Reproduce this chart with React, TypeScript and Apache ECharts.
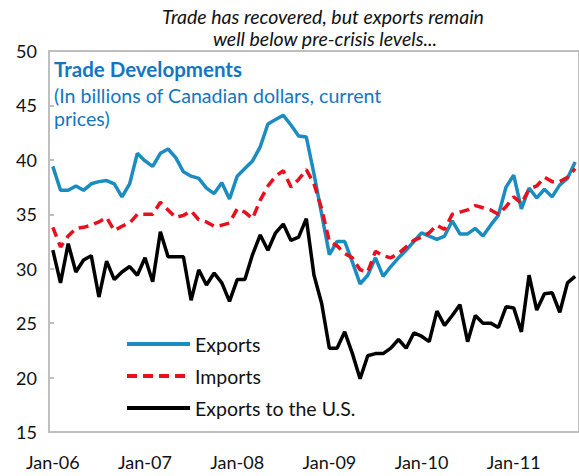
import React, { useEffect, useRef } from "react";
import * as echarts from "echarts";

const monthNames = ["Jan", "Feb", "Mar", "Apr", "May", "Jun", "Jul", "Aug", "Sep", "Oct", "Nov", "Dec"];
const yearNames = ["06", "07", "08", "09", "10", "11"];
const lastMonthCount = 69; // Jan-06 .. Sep-11

const categories: string[] = [];
for (const y of yearNames) {
  for (const m of monthNames) {
    if (categories.length < lastMonthCount) categories.push(`${m}-${y}`);
  }
}

const exportsData = [
  39.4, 37.2, 37.2, 37.6, 37.2, 37.8, 38.0, 38.1, 37.8, 36.6, 37.8, 40.6,
  39.9, 39.4, 40.6, 41.0, 40.2, 38.9, 38.5, 38.3, 37.4, 36.9, 37.9, 36.4,
  38.5, 39.2, 39.9, 41.2, 43.3, 43.7, 44.1, 43.2, 42.2, 42.1, 38.7, 35.0,
  31.3, 32.5, 32.5, 30.6, 28.6, 29.4, 31.0, 29.3, 30.2, 31.0, 31.7, 32.5,
  33.3, 33.0, 32.7, 33.0, 34.4, 33.2, 33.2, 33.7, 33.0, 34.0, 34.9, 37.5,
  38.6, 35.5, 37.4, 36.5, 37.3, 36.6, 37.7, 38.3, 39.8,
];

const importsData = [
  33.8, 32.0, 33.0, 33.7, 33.8, 34.0, 34.3, 34.7, 33.5, 33.9, 34.2, 35.0,
  35.0, 35.0, 36.1, 35.4, 34.7, 34.9, 35.3, 34.5, 34.3, 33.9, 34.0, 34.2,
  35.5, 35.2, 34.6, 36.3, 37.6, 38.5, 39.0, 37.5, 38.2, 39.1, 37.8, 35.5,
  32.5, 32.1, 31.4, 31.0, 29.9, 29.7, 31.6, 31.2, 31.0, 31.4, 32.0, 32.6,
  32.9, 33.3, 34.0, 33.6, 35.0, 35.2, 35.4, 35.8, 35.6, 35.4, 35.0, 35.7,
  36.6, 36.0, 37.3, 37.6, 38.4, 38.0, 38.0, 38.4, 39.2,
];

const exportsUSData = [
  31.7, 28.7, 32.3, 29.7, 30.8, 31.2, 27.4, 30.7, 29.0, 29.7, 30.2, 29.4,
  31.0, 28.8, 33.4, 31.1, 31.1, 31.1, 27.1, 29.9, 28.5, 29.6, 28.7, 27.0,
  29.0, 29.0, 31.3, 33.1, 31.7, 33.3, 34.1, 32.6, 32.9, 34.6, 29.4, 26.8,
  22.7, 22.7, 24.2, 22.2, 19.9, 22.0, 22.2, 22.2, 22.7, 23.5, 22.7, 24.1,
  23.8, 23.3, 26.1, 24.8, 25.7, 26.7, 23.3, 25.7, 25.0, 25.0, 24.6, 26.5,
  26.4, 24.2, 29.4, 26.2, 27.7, 27.8, 26.0, 28.7, 29.3,
];

const seriesNames = ["Exports", "Imports", "Exports to the U.S."];
const titleLines = ["Trade has recovered, but exports remain", "well below pre-crisis levels..."];
const innerTitle = "Trade Developments";
const innerSubtitle = ["(In billions of Canadian dollars, current", "prices)"];

const FONT = "Lato, 'Open Sans', sans-serif";
const GRAY = "#BFBFBF";
const BLUE_TEXT = "#1276C3";

export default function App() {
  const ref = useRef<HTMLDivElement>(null);

  useEffect(() => {
    if (!ref.current) return;
    const chart = echarts.init(ref.current, undefined, { renderer: "svg" });
    chart.setOption({
      animation: false,
      textStyle: { fontFamily: FONT },
      grid: {
        left: 49,
        right: -3,
        top: 51,
        bottom: 44,
        show: true,
        borderColor: GRAY,
        borderWidth: 2,
        containLabel: false,
      },
      xAxis: {
        type: "category",
        data: categories,
        boundaryGap: true,
        axisLine: { lineStyle: { color: GRAY, width: 2 } },
        axisTick: { inside: true, interval: 11, length: 5, alignWithLabel: false, lineStyle: { color: GRAY, width: 2 } },
        axisLabel: { interval: 11, fontSize: 18, color: "#111", margin: 21, fontFamily: FONT },
        splitLine: { show: false },
      },
      yAxis: {
        type: "value",
        min: 15,
        max: 50,
        interval: 5,
        axisLine: { show: true, lineStyle: { color: GRAY, width: 2 } },
        axisTick: { show: true, inside: true, length: 5, lineStyle: { color: GRAY, width: 2 } },
        axisLabel: { fontSize: 18, color: "#111", margin: 12, fontFamily: FONT },
        splitLine: { show: false },
      },
      legend: {
        orient: "vertical",
        left: 120,
        top: 329,
        itemWidth: 63,
        itemHeight: 20,
        itemGap: 12,
        itemStyle: { opacity: 0 },
        lineStyle: { width: 4 },
        textStyle: { fontSize: 19.5, color: "#111", fontFamily: FONT },
        data: seriesNames,
      },
      graphic: [
        {
          type: "text",
          x: 323,
          y: 16,
          style: { text: titleLines[0], fontSize: 19.5, fontStyle: "italic", fontFamily: FONT, fill: "#111", align: "center", verticalAlign: "middle" },
        },
        {
          type: "text",
          x: 325,
          y: 38,
          style: { text: titleLines[1], fontSize: 19.5, fontStyle: "italic", fontFamily: FONT, fill: "#111", align: "center", verticalAlign: "middle" },
        },
        {
          type: "text",
          x: 54,
          y: 69,
          style: { text: innerTitle, fontSize: 20.5, fontWeight: "bold", fontFamily: FONT, fill: BLUE_TEXT, align: "left", verticalAlign: "middle" },
        },
        {
          type: "text",
          x: 54,
          y: 95,
          style: { text: innerSubtitle[0], fontSize: 19.6, fontFamily: FONT, fill: BLUE_TEXT, align: "left", verticalAlign: "middle" },
        },
        {
          type: "text",
          x: 54,
          y: 118,
          style: { text: innerSubtitle[1], fontSize: 19.6, fontFamily: FONT, fill: BLUE_TEXT, align: "left", verticalAlign: "middle" },
        },
      ],
      series: [
        {
          name: seriesNames[0],
          type: "line",
          data: exportsData,
          symbol: "none",
          lineStyle: { color: "#1A8CBF", width: 3.5 },
          itemStyle: { color: "#1A8CBF" },
          z: 3,
        },
        {
          name: seriesNames[1],
          type: "line",
          data: importsData,
          symbol: "none",
          lineStyle: { color: "#E8101C", width: 3.5, type: [10, 6] },
          itemStyle: { color: "#E8101C" },
          z: 4,
        },
        {
          name: seriesNames[2],
          type: "line",
          data: exportsUSData,
          symbol: "none",
          lineStyle: { color: "#000000", width: 3.5 },
          itemStyle: { color: "#000000" },
          z: 2,
        },
      ],
    });
    return () => chart.dispose();
  }, []);

  return <div ref={ref} style={{ width: 579, height: 476, position: "absolute", left: 0, top: 0 }} />;
}
